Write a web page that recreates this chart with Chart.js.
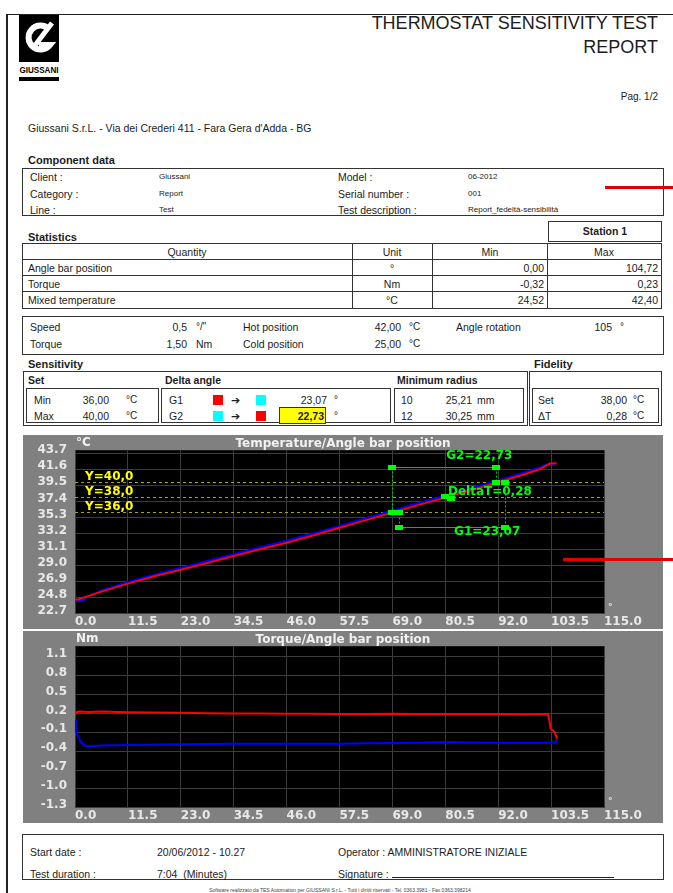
<!DOCTYPE html>
<html>
<head>
<meta charset="utf-8">
<title>Thermostat sensitivity test report</title>
<script src="https://cdn.jsdelivr.net/npm/chart.js@4.4.1/dist/chart.umd.min.js"></script>
<style>
  html, body { margin: 0; padding: 0; background: #fff; }
  #page {
    position: relative; width: 673px; height: 893px; overflow: hidden;
    font-family: "Liberation Sans", Arial, sans-serif; color: #1c1c1c;
  }
  .t { position: absolute; white-space: nowrap; line-height: 1; transform: translateY(-50%); }
  .c { transform: translate(-50%, -50%); }
  .b { font-weight: bold; }
  .box { position: absolute; border: 1px solid #333; box-sizing: border-box; }
  .hl { position: absolute; height: 0; border-top: 1px solid #333; }
  .vl { position: absolute; width: 0; border-left: 1px solid #333; }
  .sq { position: absolute; width: 10px; height: 10px; }
  .mark { position: absolute; height: 3px; background: #e00000; z-index: 5; }
  canvas { position: absolute; }
</style>
</head>
<body>
<div id="page">
  <!-- page frame -->
  <div class="vl" style="left:6px;top:14px;height:879px;border-left-width:2px;border-color:#222"></div>
  <div class="hl" style="left:6px;top:14px;width:667px;border-color:#222"></div>

  <!-- logo -->
  <svg style="position:absolute;left:19px;top:15px" width="40" height="68" viewBox="0 0 40 68">
    <rect x="0" y="0" width="40" height="47" fill="#000"/>
    <path d="M30 14 A12 12 0 1 0 31 30 L20 30" fill="none" stroke="#fff" stroke-width="6"/>
    <path d="M14 33 L33 8" stroke="#fff" stroke-width="5"/>
    <text x="20" y="58" text-anchor="middle" font-family="Liberation Sans, Arial" font-weight="bold" font-size="9" textLength="39" lengthAdjust="spacingAndGlyphs">GIUSSANI</text>
    <rect x="0" y="62" width="40" height="4" fill="#000"/>
  </svg>

  <div class="t" style="right:15px;top:23px;font-size:18px;">THERMOSTAT SENSITIVITY TEST</div>
  <div class="t" style="right:15px;top:47px;font-size:18px;">REPORT</div>
  <div class="t" style="right:15px;top:97px;font-size:10px;">Pag. 1/2</div>
  <div class="t" style="left:28px;top:128px;font-size:10.5px;">Giussani S.r.L. - Via dei Crederi 411 - Fara Gera d'Adda - BG</div>

  <!-- annotation strokes present in the scan -->
  <div class="mark" style="left:605px;top:186px;width:68px;"></div>
  <div class="mark" style="left:563px;top:558px;width:110px;"></div>

  <!-- component data -->
  <div class="t b" style="left:28px;top:160px;font-size:11px;">Component data</div>
  <div class="box" style="left:22px;top:168px;width:642px;height:48px;"></div>
  <div class="t" style="left:30px;top:177px;font-size:10.5px;">Client :</div>
  <div class="t" style="left:30px;top:194px;font-size:10.5px;">Category :</div>
  <div class="t" style="left:30px;top:210px;font-size:10.5px;">Line :</div>
  <div class="t" style="left:159px;top:177px;font-size:8px;">Giussani</div>
  <div class="t" style="left:159px;top:194px;font-size:8px;">Report</div>
  <div class="t" style="left:159px;top:210px;font-size:8px;">Test</div>
  <div class="t" style="left:338px;top:177px;font-size:10.5px;">Model :</div>
  <div class="t" style="left:338px;top:194px;font-size:10.5px;">Serial number :</div>
  <div class="t" style="left:338px;top:210px;font-size:10.5px;">Test description :</div>
  <div class="t" style="left:468px;top:177px;font-size:8px;">06-2012</div>
  <div class="t" style="left:468px;top:194px;font-size:8px;">001</div>
  <div class="t" style="left:468px;top:210px;font-size:8px;">Report_fedeltà-sensibilità</div>

  <!-- statistics -->
  <div class="t b" style="left:28px;top:237px;font-size:11px;">Statistics</div>
  <div class="box" style="left:548px;top:221px;width:114px;height:21px;"></div>
  <div class="t c b" style="left:605px;top:231px;font-size:10.5px;">Station 1</div>
  <div class="box" style="left:22px;top:243px;width:640px;height:66px;"></div>
  <div class="hl" style="left:22px;top:259px;width:640px;"></div>
  <div class="hl" style="left:22px;top:275px;width:640px;"></div>
  <div class="hl" style="left:22px;top:291px;width:640px;"></div>
  <div class="vl" style="left:352px;top:243px;height:66px;"></div>
  <div class="vl" style="left:432px;top:243px;height:66px;"></div>
  <div class="vl" style="left:547px;top:243px;height:66px;"></div>
  <div class="t c" style="left:187px;top:252px;font-size:10.5px;">Quantity</div>
  <div class="t c" style="left:392px;top:252px;font-size:10.5px;">Unit</div>
  <div class="t c" style="left:490px;top:252px;font-size:10.5px;">Min</div>
  <div class="t c" style="left:604px;top:252px;font-size:10.5px;">Max</div>
  <div class="t" style="left:28px;top:268px;font-size:10.5px;">Angle bar position</div>
  <div class="t" style="left:28px;top:284px;font-size:10.5px;">Torque</div>
  <div class="t" style="left:28px;top:300px;font-size:10.5px;">Mixed temperature</div>
  <div class="t c" style="left:392px;top:268px;font-size:10.5px;">°</div>
  <div class="t c" style="left:392px;top:284px;font-size:10.5px;">Nm</div>
  <div class="t c" style="left:392px;top:300px;font-size:10.5px;">°C</div>
  <div class="t" style="right:129px;top:268px;font-size:10.5px;">0,00</div>
  <div class="t" style="right:129px;top:284px;font-size:10.5px;">-0,32</div>
  <div class="t" style="right:129px;top:300px;font-size:10.5px;">24,52</div>
  <div class="t" style="right:15px;top:268px;font-size:10.5px;">104,72</div>
  <div class="t" style="right:15px;top:284px;font-size:10.5px;">0,23</div>
  <div class="t" style="right:15px;top:300px;font-size:10.5px;">42,40</div>

  <!-- test parameters -->
  <div class="box" style="left:22px;top:316px;width:642px;height:39px;"></div>
  <div class="t" style="left:30px;top:327px;font-size:10.5px;">Speed</div>
  <div class="t" style="left:30px;top:344px;font-size:10.5px;">Torque</div>
  <div class="t" style="right:486px;top:327px;font-size:10.5px;">0,5</div>
  <div class="t" style="right:486px;top:344px;font-size:10.5px;">1,50</div>
  <div class="t" style="left:196px;top:327px;font-size:10px;">°/"</div>
  <div class="t" style="left:196px;top:344px;font-size:10.5px;">Nm</div>
  <div class="t" style="left:243px;top:327px;font-size:10.5px;">Hot position</div>
  <div class="t" style="left:243px;top:344px;font-size:10.5px;">Cold position</div>
  <div class="t" style="right:272px;top:327px;font-size:10.5px;">42,00</div>
  <div class="t" style="right:272px;top:344px;font-size:10.5px;">25,00</div>
  <div class="t" style="left:409px;top:327px;font-size:10px;">°C</div>
  <div class="t" style="left:409px;top:344px;font-size:10px;">°C</div>
  <div class="t" style="left:456px;top:327px;font-size:10.5px;">Angle rotation</div>
  <div class="t" style="right:61px;top:327px;font-size:10.5px;">105</div>
  <div class="t" style="left:620px;top:327px;font-size:10px;">°</div>

  <!-- sensitivity / fidelity -->
  <div class="t b" style="left:28px;top:364px;font-size:11px;">Sensitivity</div>
  <div class="t b" style="left:534px;top:364px;font-size:11px;">Fidelity</div>
  <div class="box" style="left:23px;top:371px;width:505px;height:55px;"></div>
  <div class="box" style="left:529px;top:371px;width:133px;height:55px;"></div>
  <div class="t b" style="left:28px;top:380px;font-size:10.5px;">Set</div>
  <div class="t b" style="left:165px;top:380px;font-size:10.5px;">Delta angle</div>
  <div class="t b" style="left:397px;top:380px;font-size:10.5px;">Minimum radius</div>
  <div class="box" style="left:26px;top:388px;width:133px;height:35px;"></div>
  <div class="box" style="left:161px;top:388px;width:230px;height:35px;"></div>
  <div class="box" style="left:394px;top:388px;width:130px;height:35px;"></div>
  <div class="box" style="left:532px;top:388px;width:127px;height:35px;"></div>

  <div class="t" style="left:34px;top:400px;font-size:10.5px;">Min</div>
  <div class="t" style="left:34px;top:416px;font-size:10.5px;">Max</div>
  <div class="t" style="right:564px;top:400px;font-size:10.5px;">36,00</div>
  <div class="t" style="right:564px;top:416px;font-size:10.5px;">40,00</div>
  <div class="t" style="left:126px;top:400px;font-size:10px;">°C</div>
  <div class="t" style="left:126px;top:416px;font-size:10px;">°C</div>

  <div class="t" style="left:169px;top:400px;font-size:10.5px;">G1</div>
  <div class="t" style="left:169px;top:416px;font-size:10.5px;">G2</div>
  <div class="sq" style="left:213px;top:395px;background:#ff0000"></div>
  <div class="sq" style="left:256px;top:395px;background:#00ffff"></div>
  <div class="sq" style="left:213px;top:411px;background:#00ffff"></div>
  <div class="sq" style="left:256px;top:411px;background:#ff0000"></div>
  <div class="t" style="left:231px;top:400px;font-size:11px;font-family:'DejaVu Sans'">➔</div>
  <div class="t" style="left:231px;top:416px;font-size:11px;font-family:'DejaVu Sans'">➔</div>
  <div class="t" style="right:346px;top:400px;font-size:10.5px;">23,07</div>
  <div style="position:absolute;left:279px;top:407px;width:47px;height:17px;background:#ffff00;border:1px solid #333;box-sizing:border-box"></div>
  <div class="t b" style="right:349px;top:416px;font-size:10.5px;">22,73</div>
  <div class="t" style="left:334px;top:400px;font-size:10px;">°</div>
  <div class="t" style="left:334px;top:416px;font-size:10px;">°</div>

  <div class="t" style="left:401px;top:400px;font-size:10.5px;">10</div>
  <div class="t" style="left:401px;top:416px;font-size:10.5px;">12</div>
  <div class="t" style="right:201px;top:400px;font-size:10.5px;">25,21</div>
  <div class="t" style="right:201px;top:416px;font-size:10.5px;">30,25</div>
  <div class="t" style="left:477px;top:400px;font-size:10.5px;">mm</div>
  <div class="t" style="left:477px;top:416px;font-size:10.5px;">mm</div>

  <div class="t" style="left:538px;top:400px;font-size:10.5px;">Set</div>
  <div class="t" style="left:538px;top:416px;font-size:10.5px;">ΔT</div>
  <div class="t" style="right:46px;top:400px;font-size:10.5px;">38,00</div>
  <div class="t" style="right:46px;top:416px;font-size:10.5px;">0,28</div>
  <div class="t" style="left:633px;top:400px;font-size:10px;">°C</div>
  <div class="t" style="left:633px;top:416px;font-size:10px;">°C</div>

  <!-- charts -->
  <canvas id="tempChart" width="640" height="194" style="left:23px;top:435px"></canvas>
  <canvas id="torqueChart" width="640" height="192" style="left:23px;top:631px"></canvas>

  <!-- footer -->
  <div class="box" style="left:22px;top:834px;width:642px;height:46px;"></div>
  <div class="t" style="left:30px;top:852px;font-size:10.5px;">Start date :</div>
  <div class="t" style="left:30px;top:874px;font-size:10.5px;">Test duration :</div>
  <div class="t" style="left:157px;top:852px;font-size:10.5px;">20/06/2012 - 10.27</div>
  <div class="t" style="left:157px;top:874px;font-size:10.5px;">7:04&nbsp;&nbsp;(Minutes)</div>
  <div class="t" style="left:338px;top:852px;font-size:10.5px;">Operator : AMMINISTRATORE INIZIALE</div>
  <div class="t" style="left:338px;top:874px;font-size:10.5px;">Signature :</div>
  <div class="hl" style="left:392px;top:877px;width:222px;border-color:#222"></div>
  <div class="t c" style="left:340px;top:890px;font-size:5px;color:#444;">Software realizzato da TES Automation per GIUSSANI S.r.L. - Tutti i diritti riservati - Tel. 0363.3981 - Fax 0363.398214</div>
</div>

<script>
// ─── Axis ticks ─────────────────────────────────────────────────────────────
const X_TICKS = [0, 11.5, 23, 34.5, 46, 57.5, 69, 80.5, 92, 103.5, 115];
const TEMP_TICKS = [22.7, 24.8, 26.9, 29.0, 31.1, 33.2, 35.3, 37.4, 39.5, 41.6, 43.7];
const TORQUE_TICKS = [-1.3, -1.0, -0.7, -0.4, -0.1, 0.2, 0.5, 0.8, 1.1];

// ─── Temperature vs angle ──────────────────────────────────────────────────
const TEMP_RED_ANGLE = [0, 0.8, 2, 5.75, 11.5, 17.25, 23, 28.75, 34.5, 40.25, 46, 51.75,
  57.5, 63.25, 69, 74.75, 80.5, 86.25, 92, 97.75, 101, 102.5, 103.2, 104.7];
const TEMP_RED = [24.55, 24.6, 24.85, 25.6, 26.65, 27.6, 28.45, 29.35, 30.25, 31.15, 32.0, 32.95,
  33.95, 34.95, 35.95, 36.95, 37.9, 38.9, 39.9, 40.95, 41.6, 42.1, 42.35, 42.4];
const TEMP_BLUE_ANGLE = [0, 0.5, 1.8, 2.5, 5.75, 11.5, 17.25, 23, 28.75, 34.5, 40.25, 46, 51.75,
  57.5, 63.25, 69, 74.75, 80.5, 86.25, 92, 97.75, 101, 102.5, 104.2];
const TEMP_BLUE = [24.4, 24.4, 24.5, 24.85, 25.75, 26.85, 27.8, 28.7, 29.6, 30.5, 31.4, 32.25, 33.2,
  34.2, 35.2, 36.2, 37.2, 38.15, 39.15, 40.15, 41.2, 41.85, 42.2, 42.3];

// ─── Torque vs angle ────────────────────────────────────────────────────────
const TORQUE_RED_ANGLE = [0, 0.3, 1, 3, 5.75, 11.5, 17.25, 23, 28.75, 34.5, 40.25, 46, 51.75,
  57.5, 63.25, 69, 74.75, 80.5, 86.25, 92, 97.75, 102.8, 103.1, 103.4, 103.9, 104.3, 104.6, 104.7];
const TORQUE_RED = [0.17, 0.22, 0.23, 0.225, 0.23, 0.22, 0.215, 0.21, 0.205, 0.2, 0.2, 0.195, 0.195,
  0.19, 0.19, 0.195, 0.19, 0.19, 0.19, 0.19, 0.185, 0.19, 0.1, -0.04, -0.07, -0.1, -0.16, -0.2];
const TORQUE_BLUE_ANGLE = [0, 0.2, 0.6, 1.2, 2, 3, 5.75, 11.5, 17.25, 23, 28.75, 34.5, 40.25, 46,
  51.75, 57.5, 63.25, 69, 74.75, 80.5, 86.25, 92, 97.75, 103, 104.5, 104.7];
const TORQUE_BLUE = [0.1, -0.08, -0.15, -0.25, -0.31, -0.32, -0.31, -0.3, -0.295, -0.29, -0.285,
  -0.28, -0.28, -0.28, -0.28, -0.28, -0.275, -0.27, -0.265, -0.255, -0.26, -0.265, -0.265,
  -0.265, -0.26, -0.2];

// ─── Sensitivity annotations on the temperature chart ──────────────────────
const SET_LINES = [40, 38, 36];
const SET_LABELS = ['Y=40,0', 'Y=38,0', 'Y=36,0'];
const G2_LEVEL = 41.9;            // horizontal G2 bracket
const G2_ANGLES = [68.9, 91.5];
const G2_FROM = [36, 40];         // where each dotted drop starts
const G1_LEVEL = 34.0;
const G1_ANGLES = [70.4, 93.5];
const G1_FROM = [36, 40];
const DELTA_POINTS = [[80.5, 38.1], [81.7, 37.85]];
const G_LABELS = [
  { text: 'G2=22,73', x: 87.9, y: 43.3 },
  { text: 'DeltaT=0,28', x: 90.2, y: 38.6 },
  { text: 'G1=23,07', x: 89.6, y: 33.4 },
];

const TICK_FONT = { family: 'DejaVu Sans', size: 12, weight: 'bold' };
const GRID_COLOR = '#3c3c3c';

function zip(xs, ys) {
  return xs.map((x, i) => ({ x, y: ys[i] }));
}

// Gray panel, black plot area, titles.
function panelPlugin(title, unit) {
  return {
    id: 'panel',
    beforeDraw(chart) {
      const { ctx, chartArea: a } = chart;
      ctx.save();
      ctx.fillStyle = '#808080';
      ctx.fillRect(0, 0, chart.width, chart.height);
      ctx.fillStyle = '#000';
      ctx.fillRect(a.left, a.top, a.right - a.left, a.bottom - a.top);
      ctx.restore();
    },
    afterDraw(chart) {
      const { ctx, chartArea: a } = chart;
      ctx.save();
      ctx.font = 'bold 12px "DejaVu Sans"';
      ctx.fillStyle = '#f2f2f2';
      ctx.textBaseline = 'middle';
      ctx.textAlign = 'center';
      ctx.fillText(title, chart.width / 2, a.top - 6);
      ctx.textAlign = 'left';
      ctx.fillText(unit, a.left + 1, a.top - 7);
      ctx.font = 'bold 9px "DejaVu Sans"';
      ctx.fillText('°', a.right + 4, a.bottom - 6);
      ctx.restore();
    },
  };
}

function greenSquare(ctx, px, py) {
  ctx.fillRect(Math.round(px) - 4, Math.round(py) - 2, 8, 5);
}

const annotationPlugin = {
  id: 'sensitivity',
  beforeDatasetsDraw(chart) {
    const { ctx, chartArea: a, scales: { x, y } } = chart;
    ctx.save();
    ctx.strokeStyle = '#a8a800';
    ctx.lineWidth = 1;
    ctx.setLineDash([3, 3]);
    SET_LINES.forEach((v) => {
      const py = Math.round(y.getPixelForValue(v)) + 0.5;
      ctx.beginPath();
      ctx.moveTo(a.left, py);
      ctx.lineTo(a.right, py);
      ctx.stroke();
    });
    ctx.setLineDash([]);
    ctx.font = 'bold 12px "DejaVu Sans"';
    ctx.fillStyle = '#ffff00';
    ctx.textBaseline = 'middle';
    SET_LINES.forEach((v, i) => {
      ctx.fillText(SET_LABELS[i], x.getPixelForValue(2.2), y.getPixelForValue(v) - 5);
    });
    ctx.restore();
  },
  afterDatasetsDraw(chart) {
    const { ctx, scales: { x, y } } = chart;
    const brackets = [[G2_LEVEL, G2_ANGLES, G2_FROM], [G1_LEVEL, G1_ANGLES, G1_FROM]];
    ctx.save();
    ctx.strokeStyle = '#00c800';
    ctx.lineWidth = 1;

    // brackets and dotted drops
    brackets.forEach(([lvl, angles, from]) => {
      const py = Math.round(y.getPixelForValue(lvl)) + 0.5;
      ctx.setLineDash([]);
      ctx.beginPath();
      ctx.moveTo(x.getPixelForValue(angles[0]), py);
      ctx.lineTo(x.getPixelForValue(angles[1]), py);
      ctx.stroke();
      ctx.setLineDash([2, 2]);
      angles.forEach((ang, i) => {
        const px = Math.round(x.getPixelForValue(ang)) + 0.5;
        ctx.beginPath();
        ctx.moveTo(px, py);
        ctx.lineTo(px, y.getPixelForValue(from[i]));
        ctx.stroke();
      });
    });

    ctx.fillStyle = '#00ff00';
    brackets.forEach(([lvl, angles, from]) => {
      angles.forEach((ang, i) => {
        greenSquare(ctx, x.getPixelForValue(ang), y.getPixelForValue(lvl));
        greenSquare(ctx, x.getPixelForValue(ang), y.getPixelForValue(from[i]));
      });
    });
    DELTA_POINTS.forEach(([ang, t]) => greenSquare(ctx, x.getPixelForValue(ang), y.getPixelForValue(t)));

    ctx.font = 'bold 12px "DejaVu Sans"';
    ctx.textAlign = 'center';
    ctx.textBaseline = 'middle';
    G_LABELS.forEach((l) => ctx.fillText(l.text, x.getPixelForValue(l.x), y.getPixelForValue(l.y)));
    ctx.restore();
  },
};

function buildConfig(datasets, yTicks, yMin, yMax, title, unit, extraPlugins, topPad, xHeight) {
  return {
    type: 'line',
    data: { datasets },
    options: {
      responsive: false,
      animation: false,
      devicePixelRatio: 1,
      layout: { padding: { left: 0, top: topPad, right: 59, bottom: 0 } },
      elements: { point: { radius: 0 }, line: { borderWidth: 2, tension: 0 } },
      plugins: { legend: { display: false }, tooltip: { enabled: false } },
      scales: {
        x: {
          type: 'linear',
          min: 0,
          max: 115,
          afterBuildTicks(scale) { scale.ticks = X_TICKS.map((v) => ({ value: v })); },
          afterFit(scale) { scale.height = xHeight; },
          grid: { color: GRID_COLOR, drawTicks: false },
          border: { display: false },
          ticks: {
            align: 'start',
            padding: 1,
            maxRotation: 0,
            autoSkip: false,
            color: '#e8e8e8',
            font: TICK_FONT,
            callback: (v) => Number(v).toFixed(1),
          },
        },
        y: {
          type: 'linear',
          min: yMin,
          max: yMax,
          afterBuildTicks(scale) { scale.ticks = yTicks.map((v) => ({ value: v })); },
          afterFit(scale) { scale.width = 52; },
          grid: { color: GRID_COLOR, drawTicks: false },
          border: { display: false },
          ticks: {
            padding: 8,
            labelOffset: -3,
            autoSkip: false,
            color: '#e8e8e8',
            font: TICK_FONT,
            callback: (v) => Number(v).toFixed(1),
          },
        },
      },
    },
    plugins: [panelPlugin(title, unit)].concat(extraPlugins),
  };
}

new Chart(
  document.getElementById('tempChart'),
  buildConfig(
    [
      { data: zip(TEMP_RED_ANGLE, TEMP_RED), borderColor: '#ff0000' },
      { data: zip(TEMP_BLUE_ANGLE, TEMP_BLUE), borderColor: '#0000ff' },
    ],
    TEMP_TICKS, 22.7, 44.1, 'Temperature/Angle bar position', '°C', [annotationPlugin], 13, 13
  )
);

new Chart(
  document.getElementById('torqueChart'),
  buildConfig(
    [
      { data: zip(TORQUE_RED_ANGLE, TORQUE_RED), borderColor: '#ff0000' },
      { data: zip(TORQUE_BLUE_ANGLE, TORQUE_BLUE), borderColor: '#0000ff' },
    ],
    TORQUE_TICKS, -1.3, 1.27, 'Torque/Angle bar position', 'Nm', [], 12, 12
  )
);
</script>
</body>
</html>
